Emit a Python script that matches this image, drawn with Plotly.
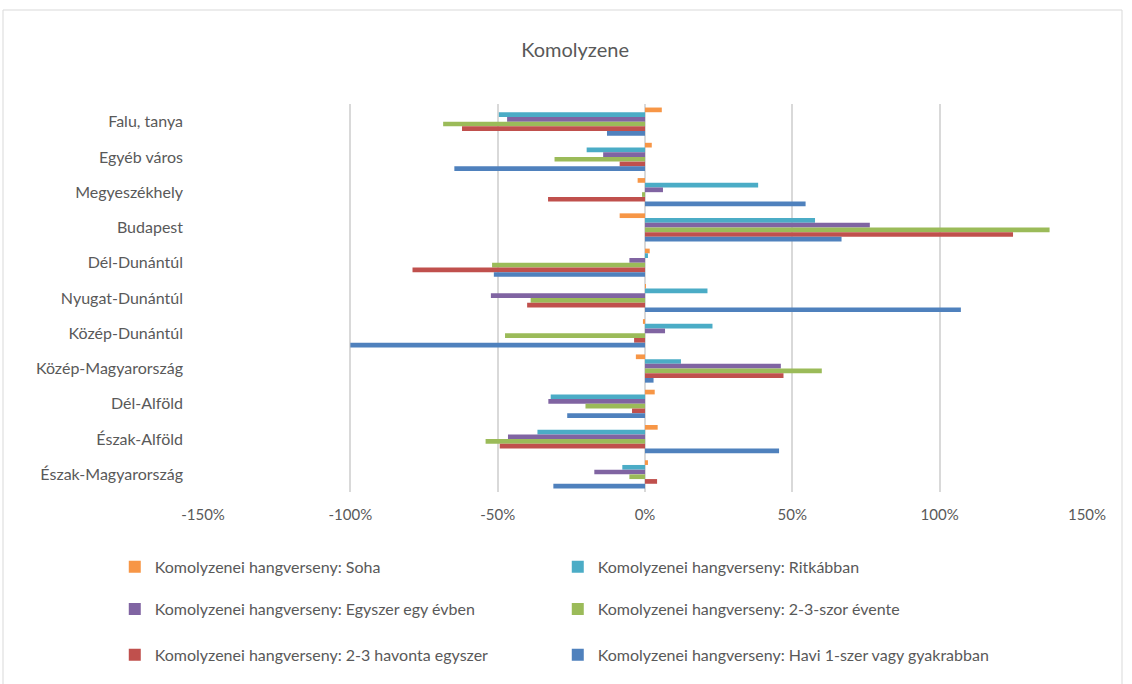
import plotly.graph_objects as go

categories = ["Falu, tanya", "Egyéb város", "Megyeszékhely", "Budapest", "Dél-Dunántúl",
              "Nyugat-Dunántúl", "Közép-Dunántúl", "Közép-Magyarország", "Dél-Alföld",
              "Észak-Alföld", "Észak-Magyarország"]

series_names = ["Komolyzenei hangverseny: Soha",
                "Komolyzenei hangverseny: Ritkábban",
                "Komolyzenei hangverseny: Egyszer egy évben",
                "Komolyzenei hangverseny: 2-3-szor évente",
                "Komolyzenei hangverseny: 2-3 havonta egyszer",
                "Komolyzenei hangverseny: Havi 1-szer vagy gyakrabban"]

soha = [5.7, 2.3, -2.5, -8.6, 1.6, 0.3, -0.7, -3.1, 3.3, 4.3, 1.0]
ritkabban = [-49.6, -19.8, 38.4, 57.7, 1.0, 21.2, 22.9, 12.2, -32.0, -36.5, -7.7]
egyszer = [-46.8, -14.2, 6.1, 76.3, -5.3, -52.3, 6.8, 46.1, -32.8, -46.5, -17.2]
ketharomszor = [-68.5, -30.7, -1.0, 137.3, -51.9, -38.8, -47.5, 60.0, -20.2, -54.1, -5.3]
havonta = [-62.1, -8.6, -32.9, 124.9, -78.9, -40.0, -3.7, 47.0, -4.4, -49.3, 4.1]
havi = [-12.9, -64.7, 54.5, 66.7, -51.3, 107.2, -100.0, 2.9, -26.4, 45.5, -31.1]

values = [soha, ritkabban, egyszer, ketharomszor, havonta, havi]
colors = ["#F79646", "#4BACC6", "#8064A2", "#9BBB59", "#C0504D", "#4F81BD"]
legend_ids = ["legend", "legend", "legend2", "legend2", "legend3", "legend3"]

tick_vals = [-150, -100, -50, 0, 50, 100, 150]
tick_text = ["-150%", "-100%", "-50%", "0%", "50%", "100%", "150%"]

FONT = "Lato, 'Open Sans', sans-serif"
TXT = "#595959"

fig = go.Figure()
for name, vals, col, lg in zip(series_names, values, colors, legend_ids):
    fig.add_trace(go.Bar(y=categories, x=vals, name=name, orientation="h",
                         marker=dict(color=col, line=dict(width=0)), legend=lg))

# two entries per legend row, like Excel's two-column legend
leg_common = dict(orientation="h", entrywidth=398, entrywidthmode="pixels",
                  font=dict(family=FONT, size=16, color=TXT), bgcolor="rgba(0,0,0,0)",
                  xanchor="left", yanchor="middle", itemclick=False)

fig.update_layout(
    width=1132, height=684,
    margin=dict(l=203, r=45, t=104, b=192),
    paper_bgcolor="white", plot_bgcolor="white",
    barmode="group", bargap=0.2, bargroupgap=0,
    title=dict(text="Komolyzene", x=0.508, xref="container", xanchor="center",
               y=1 - 50 / 684, yref="container", yanchor="middle",
               font=dict(family=FONT, size=20, color=TXT)),
    font=dict(family=FONT, size=16, color=TXT),
    xaxis=dict(range=[-150, 150], tickvals=tick_vals, ticktext=tick_text,
               showgrid=True, gridcolor="#D9D9D9", gridwidth=1.5,
               zeroline=True, zerolinecolor="#D9D9D9", zerolinewidth=1.5,
               showline=False, ticks="", ticklabelstandoff=12,
               tickfont=dict(family=FONT, size=15, color=TXT)),
    yaxis=dict(categoryorder="array", categoryarray=categories, autorange="reversed",
               showgrid=False, zeroline=False, showline=False, ticks="",
               ticklabelstandoff=19, tickfont=dict(family=FONT, size=16, color=TXT)),
    legend=dict(x=-0.0998, y=-0.193, **leg_common),
    legend2=dict(x=-0.0998, y=-0.302, **leg_common),
    legend3=dict(x=-0.0998, y=-0.42, **leg_common),
    shapes=[dict(type="rect", xref="paper", yref="paper",
                 x0=(3 - 203) / 884, x1=(1122 - 203) / 884,
                 y0=-0.51, y1=1 + (104 - 10) / 388,
                 line=dict(color="#D9D9D9", width=1), fillcolor="rgba(0,0,0,0)")],
)

fig.write_html("out.html", config={"displayModeBar": False},
               post_script="document.body.style.margin='0';")
